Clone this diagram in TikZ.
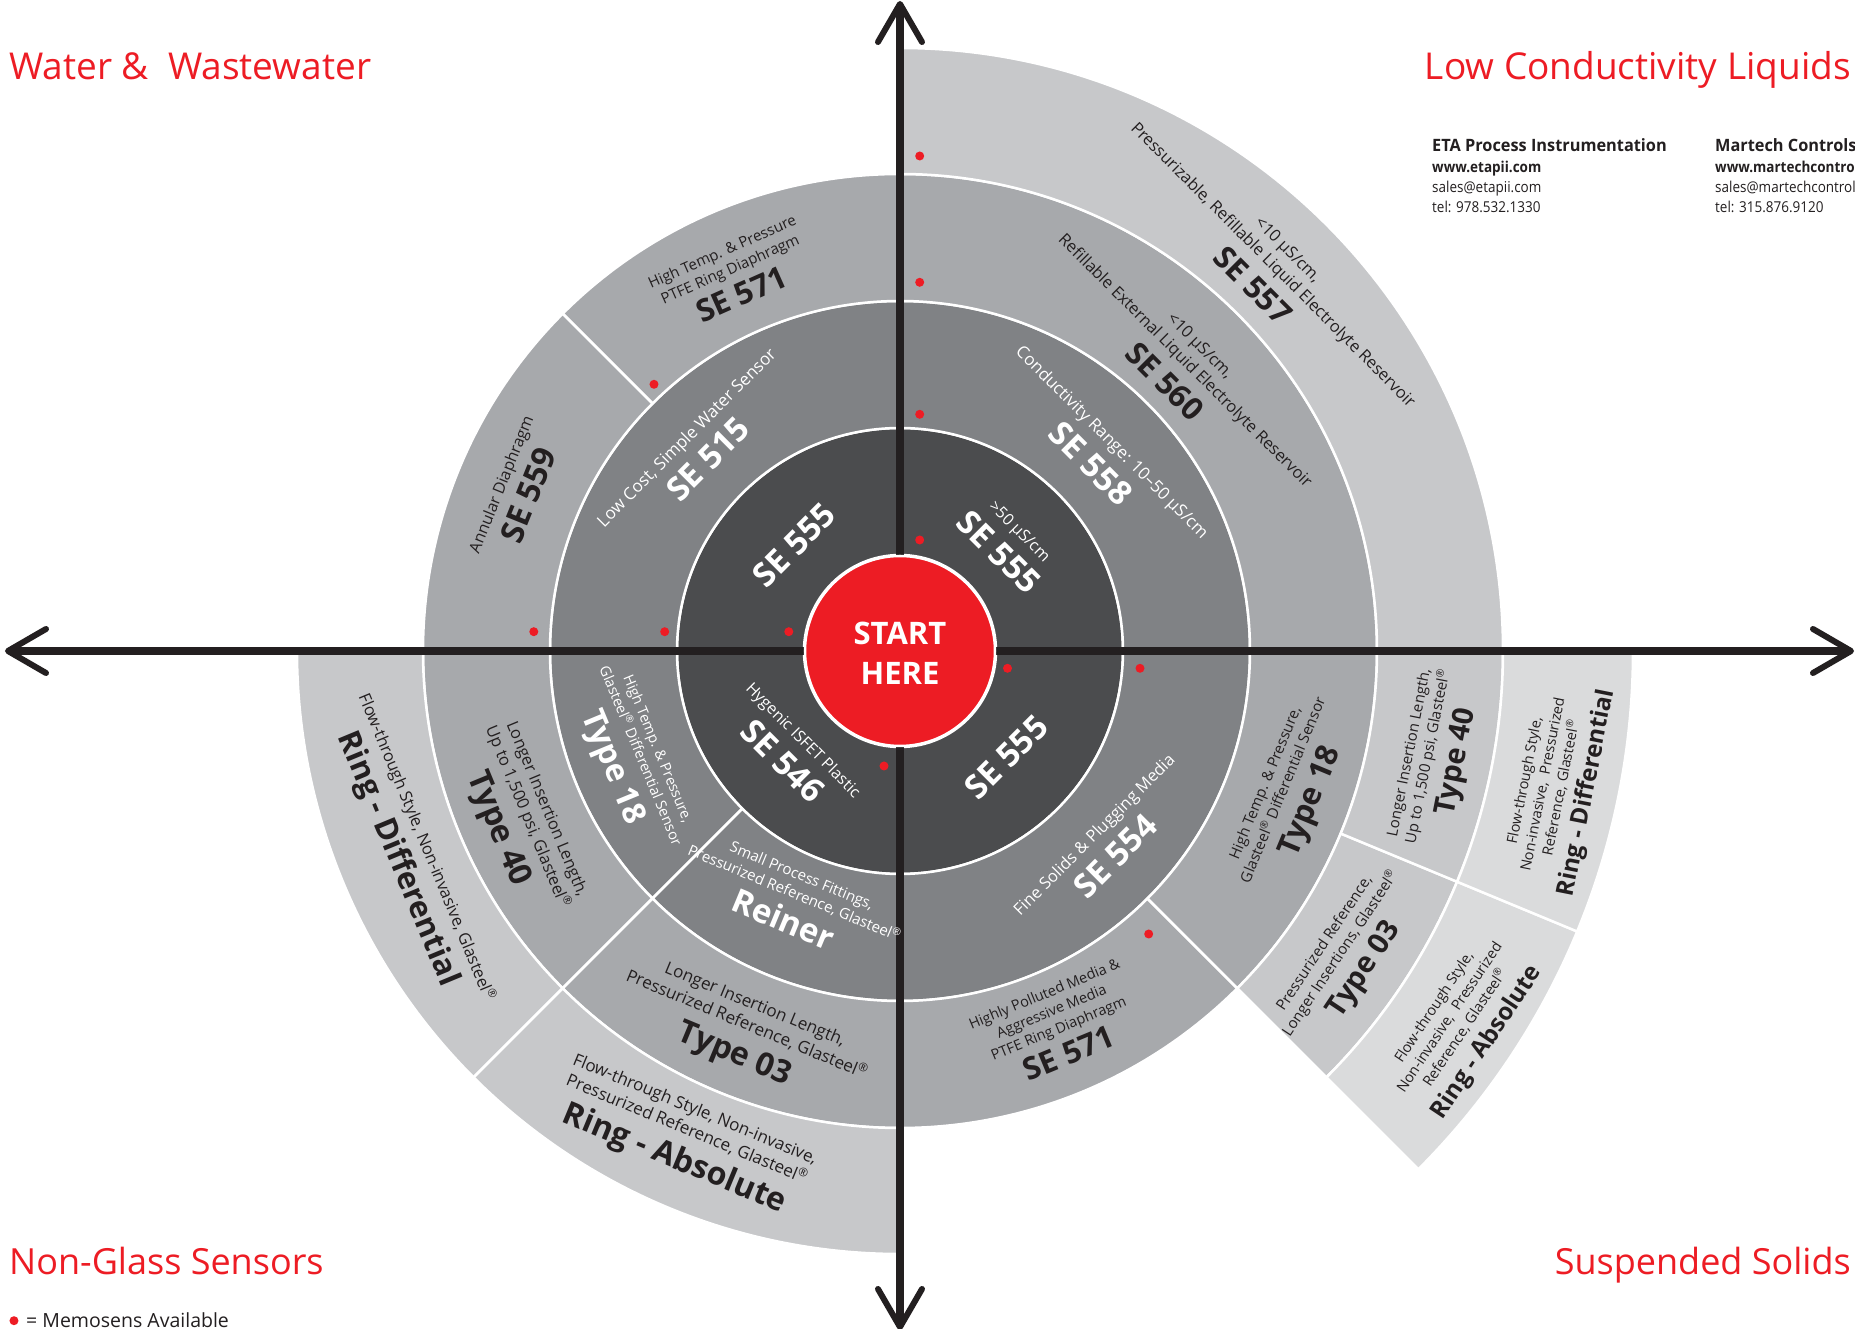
\documentclass[tikz,border=0pt]{standalone}
\usepackage{fontspec}
\setmainfont{Open Sans}
\newfontfamily\condfont[FakeStretch=0.9]{Open Sans}
\newfontfamily\condfontB[FakeStretch=0.96]{Open Sans}
\definecolor{rA}{HTML}{4B4C4E}
\definecolor{rB}{HTML}{808285}
\definecolor{rC}{HTML}{A7A9AC}
\definecolor{rD}{HTML}{C7C8CA}
\definecolor{rE}{HTML}{DADBDC}
\definecolor{redc}{HTML}{ED1C24}
\definecolor{ink}{HTML}{231F20}
\newcommand\fsub[1]{\fontsize{#1}{#1}\selectfont}
\newcommand\fnm[1]{\fontsize{#1}{#1}\selectfont\bfseries}
\newcommand\reg{\textsuperscript{®}}
\newcommand\sect[5]{\filldraw[fill=#1, draw=white, line width=2.5pt, line join=round] (#2:#4pt) arc[start angle=#2, end angle=#3, radius=#4pt] -- (#3:#5pt) arc[start angle=#3, end angle=#2, radius=#5pt] -- cycle;}
\tikzset{
  lbl/.style={anchor=base, inner sep=0pt, outer sep=0pt},
  wt/.style={text=white},
  dk/.style={text=ink},
  axis/.style={draw=ink, line width=8pt},
  arm/.style={draw=ink, line width=6pt, line cap=round, line join=round},
  memo/.style={circle, fill=redc, minimum size=9pt, inner sep=0pt},
  ttl/.style={inner sep=0pt, text=redc, font=\fontsize{37}{37}\selectfont},
  contact/.style={inner sep=0pt, anchor=base west, text=ink},
}
\begin{document}
\begin{tikzpicture}[x=1pt,y=1pt]
\useasboundingbox (-900,-678) rectangle (955,651);
\fill[white] (-900,-678) rectangle (955,651);
% ring 1
\sect{rA}{0}{90}{96}{223}
\sect{rA}{90}{180}{96}{223}
\sect{rA}{180}{270}{96}{223}
\sect{rA}{270}{360}{96}{223}
% ring 2
\sect{rB}{0}{90}{223}{350}
\sect{rB}{90}{180}{223}{350}
\sect{rB}{180}{225}{223}{350}
\sect{rB}{225}{270}{223}{350}
\sect{rB}{270}{360}{223}{350}
% ring 3
\sect{rC}{0}{90}{350}{477}
\sect{rC}{90}{135}{350}{477}
\sect{rC}{135}{180}{350}{477}
\sect{rC}{180}{225}{350}{477}
\sect{rC}{225}{270}{350}{477}
\sect{rC}{270}{315}{350}{477}
\sect{rC}{315}{360}{350}{477}
% ring 4
\sect{rD}{0}{90}{477}{603}
\sect{rD}{180}{225}{477}{603}
\sect{rD}{225}{270}{477}{603}
\sect{rD}{315}{337.5}{477}{603}
\sect{rD}{337.5}{360}{477}{603}
% ring 5
\sect{rE}{315}{337.5}{603}{733}
\sect{rE}{337.5}{360}{603}{733}

% axes
\coordinate (O) at (0,0);
\coordinate (ttip) at (0,647);
\coordinate (btip) at (0,-676);
\coordinate (ltip) at (-892,0);
\coordinate (rtip) at (951,0);
\draw[axis, shorten <=3pt, shorten >=3pt] (ltip) -- (rtip);
\draw[axis, shorten <=3pt, shorten >=3pt] (btip) -- (ttip);
\draw[arm] ([shift={(-22,-38)}]ttip) -- (ttip) -- ([shift={(22,-38)}]ttip);
\draw[arm] ([shift={(-22,38)}]btip) -- (btip) -- ([shift={(22,38)}]btip);
\draw[arm] ([shift={(38,22)}]ltip) -- (ltip) -- ([shift={(38,-22)}]ltip);
\draw[arm] ([shift={(-38,22)}]rtip) -- (rtip) -- ([shift={(-38,-22)}]rtip);

% start circle
\node[circle, fill=redc, draw=white, line width=2.5pt, minimum size=190pt, inner sep=0pt] (start) at (O) {};
\node[lbl, wt, font=\fnm{31}] (st1) at (0,6) {START};
\node[lbl, wt, font=\fnm{31}] (st2) at (0,-34) {HERE};

% ---------- top left
\begin{scope}[shift={(135:150pt)}, rotate=45, transform shape]
 \node[lbl, wt, font=\fnm{33}] (tlAn) at (0,-11.8) {SE 555};
\end{scope}
\begin{scope}[shift={(135:284pt)}, rotate=45, transform shape]
 \node[lbl, wt, font=\fsub{17}] (tlBs) at (0,12.1) {Low Cost, Simple Water Sensor};
 \node[lbl, wt, font=\fnm{33}] (tlBn) at (0,-23.9) {SE 515};
\end{scope}
\begin{scope}[shift={(114:411pt)}, rotate=24, transform shape]
 \node[lbl, dk, font=\fsub{15}] (tlCs2) at (0,20.9) {High Temp. \& Pressure};
 \node[lbl, dk, font=\fsub{15}] (tlCs1) at (0,1.7) {PTFE Ring Diaphragm};
 \node[lbl, dk, font=\fnm{31}] (tlCn) at (0,-31.7) {SE 571};
\end{scope}
\begin{scope}[shift={(157.3:415pt)}, rotate=68, transform shape]
 \node[lbl, dk, font=\fsub{16}] (tlDs) at (0,11.7) {Annular Diaphragm};
 \node[lbl, dk, font=\fnm{32}] (tlDn) at (0,-23.1) {SE 559};
\end{scope}

% ---------- top right
\begin{scope}[shift={(45:152pt)}, rotate=-45, transform shape]
 \node[lbl, wt, font=\fsub{16}] (trEs) at (0,12.1) {>50 µS/cm};
 \node[lbl, wt, font=\fnm{33}] (trEn) at (0,-23.5) {SE 555};
\end{scope}
\begin{scope}[shift={(44.5:280pt)}, rotate=-45, transform shape]
 \node[lbl, wt, font=\fsub{17}] (trFs) at (0,12.1) {Conductivity Range: 10–50 µS/cm};
 \node[lbl, wt, font=\fnm{33}] (trFn) at (0,-24.2) {SE 558};
\end{scope}
\begin{scope}[shift={(45.5:401pt)}, rotate=-45, transform shape]
 \node[lbl, dk, font=\fsub{16.5}] (trGs2) at (0,21.9) {<10 µS/cm,};
 \node[lbl, dk, font=\fsub{16.5}] (trGs1) at (0,0.8) {Refillable External Liquid Electrolyte Reservoir};
 \node[lbl, dk, font=\fnm{31}] (trGn) at (0,-33.7) {SE 560};
\end{scope}
\begin{scope}[shift={(46:531pt)}, rotate=-45, transform shape]
 \node[lbl, dk, font=\fsub{16.5}] (trHs2) at (0,21.9) {<10 µS/cm,};
 \node[lbl, dk, font=\fsub{16.5}] (trHs1) at (0,0.8) {Pressurizable, Refillable Liquid Electrolyte Reservoir};
 \node[lbl, dk, font=\fnm{31}] (trHn) at (0,-33.7) {SE 557};
\end{scope}

% ---------- bottom left
\begin{scope}[shift={(223:149pt)}, rotate=-45, transform shape]
 \node[lbl, wt, font=\fsub{16}] (blIs) at (0,12.1) {Hygenic ISFET Plastic};
 \node[lbl, wt, font=\fnm{33}] (blIn) at (0,-23.5) {SE 546};
\end{scope}
\begin{scope}[shift={(202:287pt)}, rotate=-67.5, transform shape]
 \node[lbl, wt, font=\fsub{14.5}] (blJs2) at (0,21) {High Temp. \& Pressure,};
 \node[lbl, wt, font=\fsub{14.5}] (blJs1) at (0,2.4) {Glasteel\reg{} Differential Sensor};
 \node[lbl, wt, font=\fnm{32}] (blJn) at (0,-31.3) {Type 18};
\end{scope}
\begin{scope}[shift={(246.5:272pt)}, rotate=-22.5, transform shape]
 \node[lbl, wt, font=\fsub{15}] (blKs2) at (0,21.65) {Small Process Fittings,};
 \node[lbl, wt, font=\fsub{15}] (blKs1) at (0,2.45) {Pressurized Reference, Glasteel\reg};
 \node[lbl, wt, font=\fnm{33}] (blKn) at (0,-32.4) {Reiner};
\end{scope}
\begin{scope}[shift={(204:414pt)}, rotate=-67.5, transform shape]
 \node[lbl, dk, font=\fsub{16.5}] (blLs2) at (0,22.3) {Longer Insertion Length,};
 \node[lbl, dk, font=\fsub{16.5}] (blLs1) at (0,1.2) {Up to 1,500 psi, Glasteel\reg};
 \node[lbl, dk, font=\fnm{32}] (blLn) at (0,-34) {Type 40};
\end{scope}
\begin{scope}[shift={(247.7:410pt)}, rotate=-22.5, transform shape]
 \node[lbl, dk, font=\fsub{17}] (blMs2) at (0,22.65) {Longer Insertion Length,};
 \node[lbl, dk, font=\fsub{17}] (blMs1) at (0,0.85) {Pressurized Reference, Glasteel\reg};
 \node[lbl, dk, font=\fnm{32}] (blMn) at (0,-34.7) {Type 03};
\end{scope}
\begin{scope}[shift={(202.5:529pt)}, rotate=-67.5, transform shape]
 \node[lbl, dk, font=\fsub{16.5}] (blNs) at (0,11.3) {Flow-through Style, Non-invasive, Glasteel\reg};
 \node[lbl, dk, font=\fnm{31}] (blNn) at (0,-23.2) {Ring - Differential};
\end{scope}
\begin{scope}[shift={(246:530pt)}, rotate=-22.5, transform shape]
 \node[lbl, dk, font=\fsub{17}] (blOs2) at (0,22.65) {Flow-through Style, Non-invasive,};
 \node[lbl, dk, font=\fsub{17}] (blOs1) at (0,0.85) {Pressurized Reference, Glasteel\reg};
 \node[lbl, dk, font=\fnm{32}] (blOn) at (0,-34.7) {Ring - Absolute};
\end{scope}

% ---------- bottom right
\begin{scope}[shift={(-45:150pt)}, rotate=45, transform shape]
 \node[lbl, wt, font=\fnm{33}] (brPn) at (0,-11.8) {SE 555};
\end{scope}
\begin{scope}[shift={(-43.5:285pt)}, rotate=45, transform shape]
 \node[lbl, wt, font=\fsub{16.5}] (brQs) at (0,12.1) {Fine Solids \& Plugging Media};
 \node[lbl, wt, font=\fnm{33}] (brQn) at (0,-23.9) {SE 554};
\end{scope}
\begin{scope}[shift={(-20:414pt)}, rotate=67.5, transform shape]
 \node[lbl, dk, font=\fsub{15}] (brRs2) at (0,20.9) {High Temp. \& Pressure,};
 \node[lbl, dk, font=\fsub{15}] (brRs1) at (0,1.7) {Glasteel\reg{} Differential Sensor};
 \node[lbl, dk, font=\fnm{31}] (brRn) at (0,-31.7) {Type 18};
\end{scope}
\begin{scope}[shift={(-67.2:407pt)}, rotate=22.5, transform shape]
 \node[lbl, dk, font=\fsub{14.5}] (brSs3) at (0,29.9) {Highly Polluted Media \&};
 \node[lbl, dk, font=\fsub{14.5}] (brSs2) at (0,11.3) {Aggressive Media};
 \node[lbl, dk, font=\fsub{14.5}] (brSs1) at (0,-7.3) {PTFE Ring Diaphragm};
 \node[lbl, dk, font=\fnm{31}] (brSn) at (0,-40.3) {SE 571};
\end{scope}
\begin{scope}[shift={(-11.3:544pt)}, rotate=78.75, transform shape]
 \node[lbl, dk, font=\fsub{15}] (brTs2) at (0,20.25) {Longer Insertion Length,};
 \node[lbl, dk, font=\fsub{15}] (brTs1) at (0,1.05) {Up to 1,500 psi, Glasteel\reg};
 \node[lbl, dk, font=\fnm{29}] (brTn) at (0,-30.9) {Type 40};
\end{scope}
\begin{scope}[shift={(-34.5:540pt)}, rotate=56.25, transform shape]
 \node[lbl, dk, font=\fsub{15}] (brUs2) at (0,20.25) {Pressurized Reference,};
 \node[lbl, dk, font=\fsub{15}] (brUs1) at (0,1.05) {Longer Insertions, Glasteel\reg};
 \node[lbl, dk, font=\fnm{29}] (brUn) at (0,-30.9) {Type 03};
\end{scope}
\begin{scope}[shift={(-11.7:670pt)}, rotate=78.75, transform shape]
 \node[lbl, dk, font=\fsub{14.5}] (brVs3) at (0,27.4) {Flow-through Style,};
 \node[lbl, dk, font=\fsub{14.5}] (brVs2) at (0,8.8) {Non-invasive,~ Pressurized};
 \node[lbl, dk, font=\fsub{14.5}] (brVs1) at (0,-9.8) {Reference, Glasteel\reg};
 \node[lbl, dk, font=\fnm{24}] (brVn) at (0,-37.8) {Ring - Differential};
\end{scope}
\begin{scope}[shift={(-33.7:674pt)}, rotate=56.25, transform shape]
 \node[lbl, dk, font=\fsub{14.5}] (brWs3) at (0,27.4) {Flow-through Style,};
 \node[lbl, dk, font=\fsub{14.5}] (brWs2) at (0,8.8) {Non-invasive,~ Pressurized};
 \node[lbl, dk, font=\fsub{14.5}] (brWs1) at (0,-9.8) {Reference, Glasteel\reg};
 \node[lbl, dk, font=\fnm{24}] (brWn) at (0,-37.8) {Ring - Absolute};
\end{scope}

% memosens dots
\node[memo] (m1) at (19.7,495) {};
\node[memo] (m2) at (19.7,368.7) {};
\node[memo] (m3) at (19.7,236.7) {};
\node[memo] (m4) at (-246,266.7) {};
\node[memo] (m5) at (19.7,111) {};
\node[memo] (m6) at (-235.3,19.3) {};
\node[memo] (m7) at (-111.2,19.3) {};
\node[memo] (m8) at (-366.2,19.3) {};
\node[memo] (m9) at (107.5,-17.3) {};
\node[memo] (m10) at (240,-17.3) {};
\node[memo] (m11) at (-16,-115) {};
\node[memo] (m12) at (248.7,-283) {};

% titles
\node[ttl, anchor=base west] (tWW) at (-891,571) {Water \&~ Wastewater};
\node[ttl, anchor=base east] (tLC) at (951,571) {Low Conductivity Liquids};
\node[ttl, anchor=base west, font=\fsub{36}] (tNG) at (-891,-623) {Non-Glass Sensors};
\node[ttl, anchor=base east, font=\fsub{36}] (tSS) at (951,-623) {Suspended Solids};
\node[memo] (legdot) at (-886,-669.7) {};
\node[inner sep=0pt, anchor=base west, text=ink, font=\fsub{19.5}] (leg) at (-874,-676.7) {= Memosens Available};

% contacts
\node[contact, font=\condfontB\bfseries\fontsize{17}{17}\selectfont] (eta1) at (532,499) {ETA Process Instrumentation};
\node[contact, font=\condfont\bfseries\fontsize{15}{15}\selectfont] (eta2) at (532,478) {www.etapii.com};
\node[contact, font=\condfont\fontsize{15}{15}\selectfont] (eta3) at (532,458) {sales@etapii.com};
\node[contact, font=\condfont\fontsize{15}{15}\selectfont] (eta4) at (532,438) {tel: 978.532.1330};
\node[contact, font=\condfontB\bfseries\fontsize{17}{17}\selectfont] (mc1) at (815,499) {Martech Controls};
\node[contact, font=\condfont\bfseries\fontsize{15}{15}\selectfont] (mc2) at (815,478) {www.martechcontrols.com};
\node[contact, font=\condfont\fontsize{15}{15}\selectfont] (mc3) at (815,458) {sales@martechcontrols.com};
\node[contact, font=\condfont\fontsize{15}{15}\selectfont] (mc4) at (815,438) {tel: 315.876.9120};
\end{tikzpicture}
\end{document}
